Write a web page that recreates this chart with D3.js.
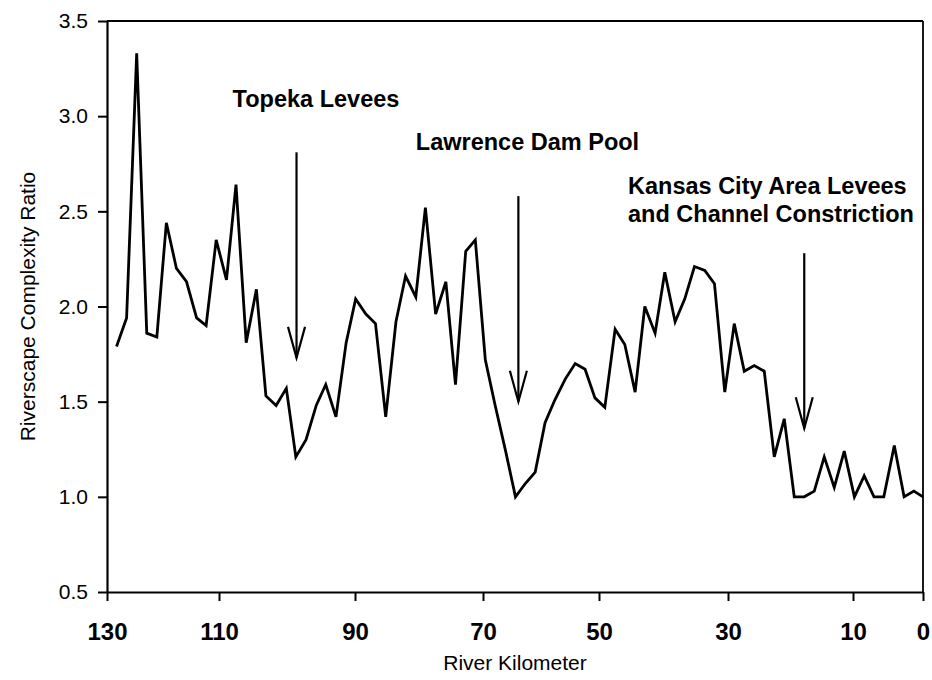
<!DOCTYPE html>
<html>
<head>
<meta charset="utf-8">
<script src="https://cdn.jsdelivr.net/npm/d3@7"></script>
<style>
  body { margin: 0; background: #fff; }
  text { font-family: "Liberation Sans", Arial, sans-serif; fill: #000; }
</style>
</head>
<body>
<div id="chart"></div>
<script>
// river kilometer of each sample
var riverKm = [
  128.3, 126.5, 124.7, 122.9, 121.1, 119.4, 117.6, 115.8, 114.0, 112.3,
  110.5, 108.9, 107.5, 106.0, 104.5, 103.1, 101.6, 100.1, 98.7, 97.2,
  95.7, 94.3, 92.8, 91.3, 89.9, 88.3, 86.8, 85.2, 83.6, 82.1,
  80.5, 79.0, 77.4, 75.8, 74.3, 72.7, 71.2, 69.6, 67.9, 66.1,
  64.4, 62.7, 61.0, 59.3, 57.6, 55.8, 54.1, 52.4, 50.7, 49.1,
  47.5, 46.0, 44.4, 42.9, 41.3, 39.8, 38.2, 36.7, 35.2, 33.6,
  32.1, 30.5, 29.0, 27.4, 25.8, 24.2, 22.6, 21.0, 19.4, 17.8,
  16.2, 14.6, 13.0, 11.4, 9.8, 8.4, 7.0, 5.6, 4.1, 2.7,
  1.3, 0
];
var complexity = [
  1.79, 1.94, 3.33, 1.86, 1.84, 2.44, 2.20, 2.13, 1.94, 1.90,
  2.35, 2.14, 2.64, 1.81, 2.09, 1.53, 1.48, 1.57, 1.21, 1.30,
  1.48, 1.59, 1.42, 1.81, 2.04, 1.96, 1.91, 1.42, 1.92, 2.16,
  2.05, 2.52, 1.96, 2.13, 1.59, 2.29, 2.35, 1.72, 1.48, 1.24,
  1.00, 1.07, 1.13, 1.39, 1.51, 1.62, 1.70, 1.67, 1.52, 1.47,
  1.88, 1.80, 1.55, 2.00, 1.86, 2.18, 1.92, 2.04, 2.21, 2.19,
  2.12, 1.55, 1.91, 1.66, 1.69, 1.66, 1.21, 1.41, 1.00, 1.00,
  1.03, 1.21, 1.05, 1.24, 1.00, 1.11, 1.00, 1.00, 1.27, 1.00,
  1.03, 1.00
];
var xTicks = [130, 110, 90, 70, 50, 30, 10, 0];
var yTicks = [0.5, 1.0, 1.5, 2.0, 2.5, 3.0, 3.5];

// annotations: label lines, label anchor, arrow km and arrow top/tip values
var noteLines = [["Topeka Levees"], ["Lawrence Dam Pool"], ["Kansas City Area Levees", "and Channel Constriction"]];
var noteKm = [108.0, 80.5, 45.5];
var noteVal = [3.05, 2.82, 2.59];
var arrowKm = [98.6, 63.9, 17.8];
var arrowTop = [2.81, 2.58, 2.28];
var arrowTip = [1.73, 1.50, 1.36];

(function() {
    var width = 932, height = 680;
    var m = {left: 107, right: 923, top: 21, bottom: 592};
    // the printed axis is not evenly spaced, so map each labelled km to its place
    var tickPx = [107, 219, 355, 483, 599, 728, 853, 923];

    var svg = d3.select("#chart").append("svg").attr("width", width).attr("height", height);

    var x = d3.scaleLinear().domain(xTicks).range(tickPx);
    var y = d3.scaleLinear().domain([0.5, 3.5]).range([m.bottom, m.top]);

    // frame top and right
    svg.append("line").attr("x1", m.left).attr("x2", m.right).attr("y1", m.top).attr("y2", m.top)
        .attr("stroke", "#000").attr("stroke-width", 1.8);
    svg.append("line").attr("x1", m.right).attr("x2", m.right).attr("y1", m.top).attr("y2", m.bottom)
        .attr("stroke", "#000").attr("stroke-width", 1.8);

    var xAxis = svg.append("g").attr("transform", "translate(0," + m.bottom + ")")
        .call(d3.axisBottom(x).tickValues(xTicks).tickSize(9).tickSizeOuter(0).tickFormat(d3.format("d")));
    xAxis.select(".domain").attr("stroke-width", 2.2);
    xAxis.selectAll(".tick line").attr("stroke-width", 2);
    xAxis.selectAll(".tick text").attr("y", 48).attr("dy", 0)
        .style("font-family", "'Liberation Sans Narrow', 'Liberation Sans', Arial, sans-serif")
        .style("font-size", "24px").style("font-weight", "bold");

    var yAxis = svg.append("g").attr("transform", "translate(" + m.left + ",0)")
        .call(d3.axisLeft(y).tickValues(yTicks).tickSize(9).tickSizeOuter(0).tickFormat(d3.format(".1f")));
    yAxis.select(".domain").attr("stroke-width", 2.2);
    yAxis.selectAll(".tick line").attr("stroke-width", 2);
    yAxis.selectAll(".tick text").attr("x", -19).style("font-size", "21px");

    svg.append("text").attr("x", (m.left + m.right) / 2).attr("y", 670).attr("text-anchor", "middle")
        .style("font-size", "21px").text("River Kilometer");
    svg.append("text").attr("transform", "translate(35," + (m.top + m.bottom) / 2 + ") rotate(-90)")
        .attr("text-anchor", "middle").style("font-size", "21px").text("Riverscape Complexity Ratio");

    var pts = riverKm.map(function(km, i) { return [km, complexity[i]]; });
    var line = d3.line().x(function(d) { return x(d[0]); }).y(function(d) { return y(d[1]); });
    svg.append("path").datum(pts).attr("d", line).attr("fill", "none")
        .attr("stroke", "#000").attr("stroke-width", 2.8).attr("stroke-linejoin", "miter");

    // arrows
    arrowKm.forEach(function(km, i) {
        var ax = x(km), tip = y(arrowTip[i]);
        svg.append("line").attr("x1", ax).attr("x2", ax).attr("y1", y(arrowTop[i])).attr("y2", tip)
            .attr("stroke", "#000").attr("stroke-width", 2.2);
        svg.append("path").attr("d", "M" + (ax - 8.5) + "," + (tip - 31) + "L" + ax + "," + tip + "L" + (ax + 8.5) + "," + (tip - 31))
            .attr("fill", "none").attr("stroke", "#000").attr("stroke-width", 2.2);
    });

    // labels
    noteLines.forEach(function(lines, i) {
        var t = svg.append("text").attr("x", x(noteKm[i])).attr("y", y(noteVal[i]))
            .style("font-size", "23.5px").style("font-weight", "bold");
        lines.forEach(function(s, j) {
            t.append("tspan").attr("x", x(noteKm[i])).attr("dy", j === 0 ? 0 : 28).text(s);
        });
    });
})();
</script>
</body>
</html>
